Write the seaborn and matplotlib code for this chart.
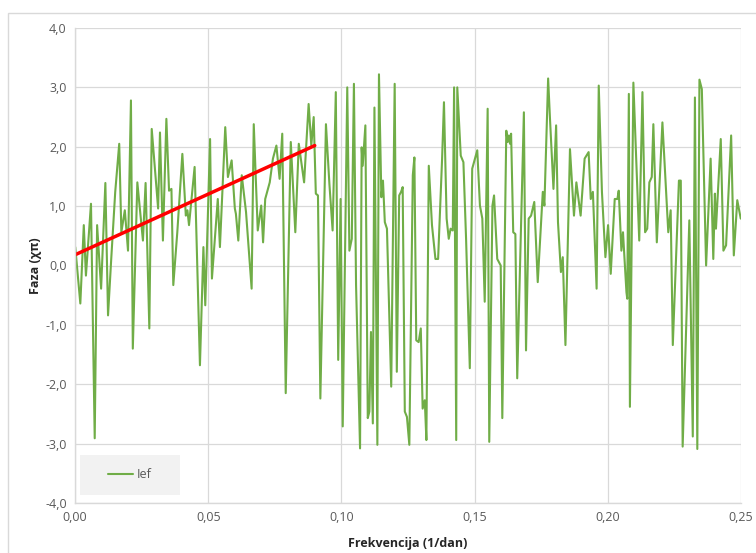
import numpy as np
import pandas as pd
import seaborn as sns
import matplotlib.pyplot as plt
from matplotlib.patches import Rectangle
from matplotlib.ticker import FuncFormatter, MultipleLocator

# Phase spectrum
freq = [0.0001, 0.0020, 0.0033, 0.0041, 0.0060, 0.0074, 0.0083, 0.0098, 0.0114, 0.0124,
        0.0136, 0.0151, 0.0166, 0.0174, 0.0187, 0.0199, 0.0210, 0.0217, 0.0234, 0.0255,
        0.0265, 0.0279, 0.0288, 0.0312, 0.0319, 0.0330, 0.0343, 0.0353, 0.0362, 0.0369,
        0.0384, 0.0403, 0.0416, 0.0422, 0.0428, 0.0449, 0.0469, 0.0482, 0.0489, 0.0507,
        0.0514, 0.0536, 0.0544, 0.0564, 0.0574, 0.0588, 0.0600, 0.0604, 0.0613, 0.0626,
        0.0642, 0.0663, 0.0671, 0.0686, 0.0699, 0.0706, 0.0714, 0.0731, 0.0743, 0.0756,
        0.0768, 0.0778, 0.0791, 0.0810, 0.0827, 0.0840, 0.0860, 0.0877, 0.0887, 0.0896,
        0.0904, 0.0912, 0.0921, 0.0942, 0.0955, 0.0967, 0.0979, 0.0988, 0.0997, 0.1005,
        0.1022, 0.1030, 0.1039, 0.1047, 0.1055, 0.1070, 0.1076, 0.1080, 0.1090, 0.1099,
        0.1105, 0.1111, 0.1118, 0.1124, 0.1135, 0.1141, 0.1150, 0.1156, 0.1163, 0.1171,
        0.1187, 0.1200, 0.1208, 0.1217, 0.1224, 0.1230, 0.1238, 0.1246, 0.1255, 0.1268,
        0.1274, 0.1281, 0.1290, 0.1298, 0.1305, 0.1313, 0.1319, 0.1328, 0.1340, 0.1353,
        0.1363, 0.1378, 0.1385, 0.1395, 0.1403, 0.1410, 0.1418, 0.1423, 0.1431, 0.1435,
        0.1448, 0.1458, 0.1468, 0.1482, 0.1491, 0.1510, 0.1520, 0.1529, 0.1538, 0.1549,
        0.1555, 0.1567, 0.1573, 0.1585, 0.1598, 0.1604, 0.1619, 0.1624, 0.1629, 0.1633,
        0.1637, 0.1645, 0.1653, 0.1660, 0.1685, 0.1693, 0.1703, 0.1712, 0.1724, 0.1737,
        0.1756, 0.1762, 0.1776, 0.1783, 0.1796, 0.1806, 0.1813, 0.1824, 0.1831, 0.1841,
        0.1858, 0.1873, 0.1882, 0.1898, 0.1913, 0.1928, 0.1936, 0.1944, 0.1958, 0.1966,
        0.1978, 0.1991, 0.2001, 0.2011, 0.2026, 0.2036, 0.2041, 0.2051, 0.2057, 0.2070,
        0.2073, 0.2079, 0.2083, 0.2096, 0.2118, 0.2130, 0.2140, 0.2148, 0.2156, 0.2165,
        0.2171, 0.2184, 0.2205, 0.2227, 0.2236, 0.2244, 0.2267, 0.2274, 0.2281, 0.2306,
        0.2319, 0.2327, 0.2336, 0.2344, 0.2353, 0.2369, 0.2386, 0.2396, 0.2402, 0.2406,
        0.2424, 0.2434, 0.2444, 0.2463, 0.2473, 0.2486, 0.2499]
phase = [0.31, -0.64, 0.68, -0.17, 1.04, -2.91, 0.68, -0.39, 1.39, -0.84,
         0.11, 1.24, 2.05, 0.56, 0.93, 0.25, 2.78, -1.40, 1.40, 0.42,
         1.39, -1.06, 2.30, 0.96, 2.24, 0.42, 2.47, 1.26, 1.29, -0.33,
         0.56, 1.88, 0.84, 0.93, 0.68, 1.66, -1.68, 0.31, -0.67, 2.13,
         -0.22, 1.12, 0.31, 2.33, 1.49, 1.77, 0.96, 0.87, 0.42, 1.52,
         0.90, -0.39, 2.38, 0.59, 1.01, 0.39, 1.12, 1.40, 1.80, 2.02,
         1.46, 2.22, -2.15, 2.08, 0.56, 2.05, 1.40, 2.72, 2.02, 2.50,
         1.21, 1.18, -2.24, 2.38, 1.37, 0.59, 2.92, -1.59, 1.12, -2.71,
         3.00, 0.25, 0.45, 3.06, -0.33, -3.08, 1.99, 1.68, 2.36, -2.57,
         -2.46, -1.12, -2.66, 2.66, -3.02, 3.22, 1.15, 1.43, 0.73, 0.62,
         -2.04, 3.06, -1.79, 1.18, 1.24, 1.32, -2.46, -2.55, -3.02, 1.52,
         1.82, -1.26, -1.29, -1.06, -2.41, -2.27, -2.94, 1.68, 0.68, 0.11,
         0.11, 1.80, 2.75, 0.79, 0.45, 0.62, 0.59, 3.00, -2.94, 3.00,
         1.85, 1.74, 0.45, -1.73, 1.63, 1.94, 1.01, 0.79, -0.61, 2.64,
         -2.97, 1.01, 1.18, 0.11, 0.00, -2.57, 2.27, 2.08, 2.19, 2.05,
         2.22, 0.56, 0.53, -1.90, 2.58, -1.43, 0.79, 0.84, 1.07, -0.28,
         1.24, 1.01, 3.15, 2.47, 1.29, 2.36, 0.73, -0.11, 0.14, -1.34,
         1.96, 0.84, 1.40, 0.84, 1.80, 1.91, 1.12, 1.24, -0.39, 3.03,
         1.24, 0.14, 0.68, -0.14, 1.12, 1.12, 1.26, 0.25, 0.56, -0.45,
         -0.56, 2.89, -2.38, 3.08, 0.42, 2.92, 0.56, 0.62, 1.40, 1.49,
         2.38, 0.39, 2.41, 0.56, 0.93, -1.34, 1.43, 1.43, -3.05, 0.76,
         -2.88, 2.83, -3.09, 3.13, 2.97, 0.00, 1.80, 0.11, 1.21, 0.62,
         2.13, 0.25, 0.34, 2.19, 0.17, 1.10, 0.79]

# linear trend drawn in red
fit_x = [0.0, 0.09]
fit_y = [0.18, 2.02]

df = pd.DataFrame({"Frekvencija": freq, "Faza": phase})

sns.set_style("white")
plt.rcParams['font.family'] = ['Open Sans', 'DejaVu Sans']

fig = plt.figure(figsize=(7.56, 5.53), dpi=100)
ax = fig.add_axes([75 / 756, 50 / 553, 666 / 756, 475 / 553])

# chart area border like Excel
fig.patches.append(Rectangle((8 / 756, -0.01), 1.0, (553 - 13) / 553 + 0.01,
                             transform=fig.transFigure, fill=False,
                             edgecolor='#d9d9d9', linewidth=1))

sns.lineplot(data=df, x="Frekvencija", y="Faza", sort=False, estimator=None,
             color='#70AD47', linewidth=1.5, label='Ief', ax=ax)
sns.lineplot(x=fit_x, y=fit_y, color='#FF0000', linewidth=2.5, ax=ax, legend=False)

ax.set_xlim(0, 0.25)
ax.set_ylim(-4, 4)
ax.xaxis.set_major_locator(MultipleLocator(0.05))
ax.yaxis.set_major_locator(MultipleLocator(1.0))
ax.xaxis.set_major_formatter(FuncFormatter(lambda v, p: f"{v:.2f}".replace('.', ',')))
ax.yaxis.set_major_formatter(FuncFormatter(lambda v, p: f"{v:.1f}".replace('.', ',')))
ax.grid(True, color='#d9d9d9', linewidth=0.9)
ax.set_axisbelow(True)
for s in ['top', 'right']:
    ax.spines[s].set_visible(False)
for s in ['left', 'bottom']:
    ax.spines[s].set_color('#d9d9d9')
    ax.spines[s].set_linewidth(1)
ax.tick_params(axis='both', length=0, labelsize=9, colors='#595959', pad=6)

ax.set_xlabel("Frekvencija (1/dan)", fontsize=9, fontweight='bold', color='#262626', labelpad=9)
ax.set_ylabel("Faza (χπ)", fontsize=9, fontweight='bold', color='#262626', labelpad=2)

# legend: grey box drawn as a patch, entry centred in it
ax.add_patch(Rectangle((0.0075, 0.017), 0.1505, 0.084, transform=ax.transAxes,
                       facecolor='#f2f2f2', edgecolor='none', zorder=3))
leg = ax.legend(loc='center', bbox_to_anchor=(0.083, 0.059), frameon=False,
                fontsize=9, handlelength=2.0, handletextpad=0.3)
leg.set_zorder(4)
for t in leg.get_texts():
    t.set_color('#595959')
for h in leg.get_lines():
    h.set_linewidth(1.5)

fig.savefig("out.png", dpi=100)
